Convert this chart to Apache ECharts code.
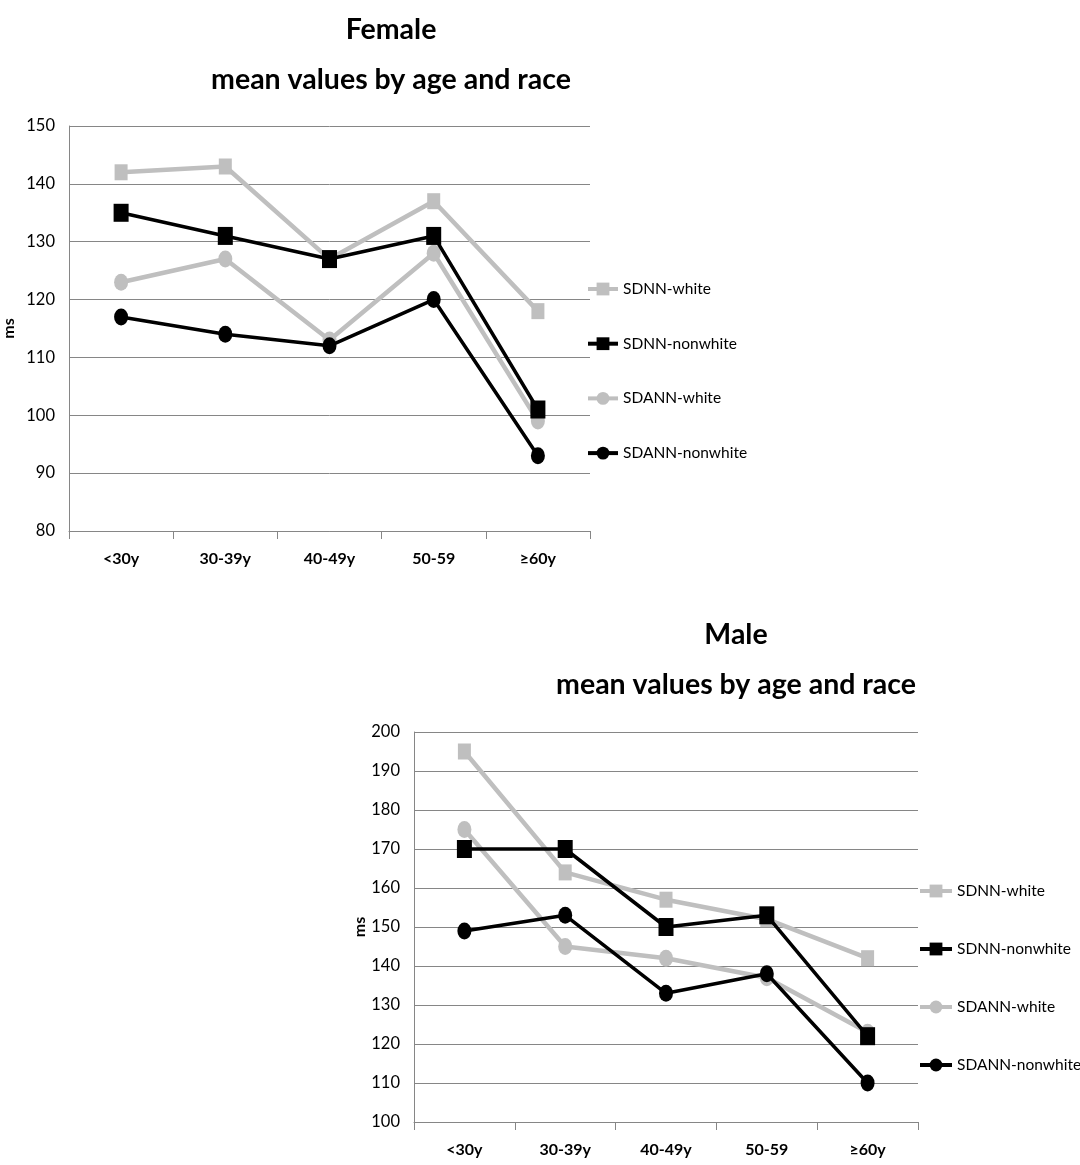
<!DOCTYPE html>
<html><head><meta charset="utf-8">
<script src="https://cdn.jsdelivr.net/npm/echarts@6/dist/echarts.min.js"></script>
<style>html,body{margin:0;padding:0;background:#fff}#c{width:1080px;height:1165px}</style>
</head><body><div id="c"></div>
<script>
const categories = ['<30y', '30-39y', '40-49y', '50-59', '≥60y'];
const seriesNames = ['SDNN-white', 'SDNN-nonwhite', 'SDANN-white', 'SDANN-nonwhite'];
const femaleSdnnWhite = [142, 143, 127, 137, 118];
const femaleSdnnNonwhite = [135, 131, 127, 131, 101];
const femaleSdannWhite = [123, 127, 113, 128, 99];
const femaleSdannNonwhite = [117, 114, 112, 120, 93];
const maleSdnnWhite = [195, 164, 157, 152, 142];
const maleSdnnNonwhite = [170, 170, 150, 153, 122];
const maleSdannWhite = [175, 145, 142, 137, 123];
const maleSdannNonwhite = [149, 153, 133, 138, 110];
const femaleTitle = 'Female\nmean values by age and race';
const maleTitle = 'Male\nmean values by age and race';
const yName = 'ms';

const FONT = 'Lato, "Open Sans", sans-serif';
const GRAY = '#bfbfbf', BLACK = '#000000', GRID = '#868686';
const styles = [
  {color: GRAY, width: 4.5, symbol: 'rect', size: [13, 16]},
  {color: BLACK, width: 3.5, symbol: 'rect', size: [15, 18]},
  {color: GRAY, width: 4.5, symbol: 'circle', size: [14, 17]},
  {color: BLACK, width: 3.5, symbol: 'circle', size: [14, 17]}
];
const femaleData = [femaleSdnnWhite, femaleSdnnNonwhite, femaleSdannWhite, femaleSdannNonwhite];
const maleData = [maleSdnnWhite, maleSdnnNonwhite, maleSdannWhite, maleSdannNonwhite];

function xAxis(gi) {
  return {
    type: 'category', gridIndex: gi, data: categories, boundaryGap: true,
    axisLine: {lineStyle: {color: GRID, width: 1}},
    axisTick: {show: true, length: 8, lineStyle: {color: GRID}},
    axisLabel: {color: '#000', fontFamily: FONT, fontWeight: 'bold', fontSize: 16, margin: 20}
  };
}
function yAxis(gi, min, max) {
  return {
    type: 'value', gridIndex: gi, min: min, max: max, interval: 10,
    name: yName, nameLocation: 'middle', nameRotate: 90,
    nameTextStyle: {fontFamily: FONT, fontWeight: 'bold', fontSize: 16, color: '#000'},
    axisLine: {show: true, lineStyle: {color: GRID}},
    axisTick: {show: false},
    splitLine: {show: true, lineStyle: {color: GRID, width: 1}},
    axisLabel: {color: '#000', fontFamily: FONT, fontSize: 16.5, margin: 14}
  };
}
function series(gi, data) {
  return data.map((d, i) => ({
    name: seriesNames[i], type: 'line', xAxisIndex: gi, yAxisIndex: gi, data: d,
    symbol: styles[i].symbol, symbolSize: styles[i].size, showAllSymbol: true,
    lineStyle: {color: styles[i].color, width: styles[i].width},
    itemStyle: {color: styles[i].color},
    z: [1, 4, 2, 3][i], animation: false
  }));
}
const titleStyle = {fontFamily: FONT, fontWeight: 'bold', fontSize: 28.5, color: '#000', lineHeight: 50};
const legendText = {fontFamily: FONT, fontSize: 15.5, color: '#000'};

const chart = echarts.init(document.getElementById('c'), null, {renderer: 'canvas'});
const opt = {
  backgroundColor: '#fff',
  animation: false,
  title: [
    {text: femaleTitle, left: 386, top: 0, textAlign: 'center', textStyle: titleStyle},
    {text: maleTitle, left: 731, top: 605, textAlign: 'center', textStyle: titleStyle}
  ],
  grid: [
    {left: 68, top: 126, width: 522, height: 405},
    {left: 414, top: 732, width: 504, height: 390}
  ],
  legend: [
    {data: seriesNames, left: 586, top: 281, padding: 0, orient: 'vertical', itemWidth: 30, itemHeight: 16, itemGap: 38.7,
     lineStyle: {width: 4}, textStyle: legendText},
    {data: seriesNames, left: 918, top: 883, padding: 0, orient: 'vertical', itemWidth: 32, itemHeight: 16, itemGap: 42,
     lineStyle: {width: 4}, textStyle: legendText}
  ],
  xAxis: [xAxis(0), xAxis(1)],
  yAxis: [Object.assign(yAxis(0, 80, 150), {nameGap: 52}), Object.assign(yAxis(1, 100, 200), {nameGap: 40})],
  series: series(0, femaleData).concat(series(1, maleData))
};
chart.setOption(opt);
</script>
</body></html>
